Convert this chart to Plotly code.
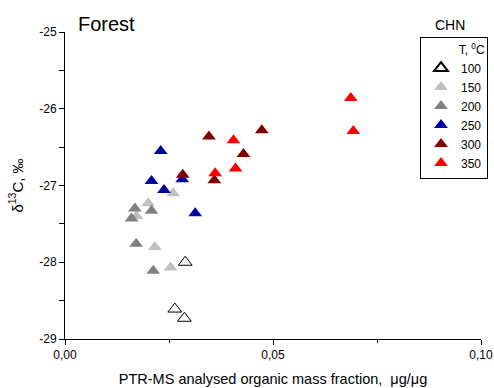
import plotly.graph_objects as go

temps = ["100", "150", "200", "250", "300", "350"]
colors = ["#000000", "#c0c0c0", "#808080", "#0000a0", "#800000", "#ff0000"]

x_100 = [0.0289, 0.0264, 0.0287]
y_100 = [-28.00, -28.61, -28.73]
x_150 = [0.0260, 0.0200, 0.0172, 0.0216, 0.0254]
y_150 = [-27.10, -27.23, -27.40, -27.80, -28.07]
x_200 = [0.0168, 0.0208, 0.0160, 0.0171, 0.0212]
y_200 = [-27.30, -27.33, -27.43, -27.76, -28.11]
x_250 = [0.0230, 0.0208, 0.0238, 0.0282, 0.0313]
y_250 = [-26.55, -26.94, -27.06, -26.92, -27.36]
x_300 = [0.0346, 0.0283, 0.0359, 0.0473, 0.0429]
y_300 = [-26.36, -26.86, -26.93, -26.28, -26.59]
x_350 = [0.0405, 0.0361, 0.0410, 0.0687, 0.0693]
y_350 = [-26.41, -26.84, -26.78, -25.86, -26.29]

xs = [x_100, x_150, x_200, x_250, x_300, x_350]
ys = [y_100, y_150, y_200, y_250, y_300, y_350]

x_ticks = [0.0, 0.05, 0.10]
x_ticktext = ["0,00", "0,05", "0,10"]
y_ticks = [-29, -28, -27, -26, -25]
y_ticktext = ["-29", "-28", "-27", "-26", "-25"]

FONT = "Liberation Sans, Arial, sans-serif"
W, H = 494, 388

fig = go.Figure()
for t, c, xv, yv in zip(temps, colors, xs, ys):
    if t == "100":
        marker = dict(symbol="triangle-up-open", size=12, color=c, line=dict(width=1, color=c))
    else:
        marker = dict(symbol="triangle-up", size=12, color=c, line=dict(width=0))
    fig.add_trace(go.Scatter(x=xv, y=yv, mode="markers", name=t, marker=marker))

fig.update_layout(
    width=W, height=H,
    margin=dict(l=0, r=0, t=0, b=0, pad=0),
    paper_bgcolor="white", plot_bgcolor="white",
    font=dict(family=FONT, size=12, color="black"),
    showlegend=True,
    legend=dict(
        x=488 / W, y=(H - 37) / H, xanchor="right", yanchor="top",
        bordercolor="black", borderwidth=1, bgcolor="white",
        font=dict(family=FONT, size=12, color="black"), tracegroupgap=0,
        itemsizing="constant", itemwidth=30,
        title=dict(text="T, <sup>0</sup>C", font=dict(family=FONT, size=12, color="black"),
                   side="top right"),
    ),
    xaxis=dict(
        domain=[65 / W, 481 / W], automargin=False,
        range=[0, 0.10], tickvals=x_ticks, ticktext=x_ticktext,
        showgrid=False, zeroline=False, showline=True, linecolor="black", linewidth=1,
        ticks="outside", ticklen=5, tickcolor="black",
        minor=dict(dtick=0.025, ticks="outside", ticklen=3, tickcolor="black", showgrid=False),
        tickfont=dict(size=12, color="black"),
        title=dict(text="PTR-MS analysed organic mass fraction,  μg/μg",
                   font=dict(size=14.5, color="black"), standoff=12),
    ),
    yaxis=dict(
        domain=[(H - 339) / H, (H - 32) / H], automargin=False,
        range=[-29, -25], tickvals=y_ticks, ticktext=y_ticktext,
        showgrid=False, zeroline=False, showline=True, linecolor="black", linewidth=1,
        ticks="outside", ticklen=5, tickcolor="black",
        minor=dict(dtick=0.5, ticks="outside", ticklen=5, tickcolor="black", showgrid=False),
        tickfont=dict(size=12, color="black"),
        title=dict(text="δ<sup>13</sup>C, ‰", font=dict(size=15, color="black"), standoff=12),
    ),
    annotations=[
        dict(text="Forest", x=76 / W, y=(H - 24) / H, xref="paper", yref="paper",
             xanchor="left", yanchor="middle", showarrow=False,
             font=dict(size=20, color="black")),
        dict(text="CHN", x=433 / W, y=(H - 25) / H, xref="paper", yref="paper",
             xanchor="left", yanchor="middle", showarrow=False,
             font=dict(size=14, color="black")),
    ],
)

fig.write_html(
    "out.html",
    config={"displayModeBar": False},
    post_script="document.body.style.margin='0';document.body.style.overflow='hidden';",
)
